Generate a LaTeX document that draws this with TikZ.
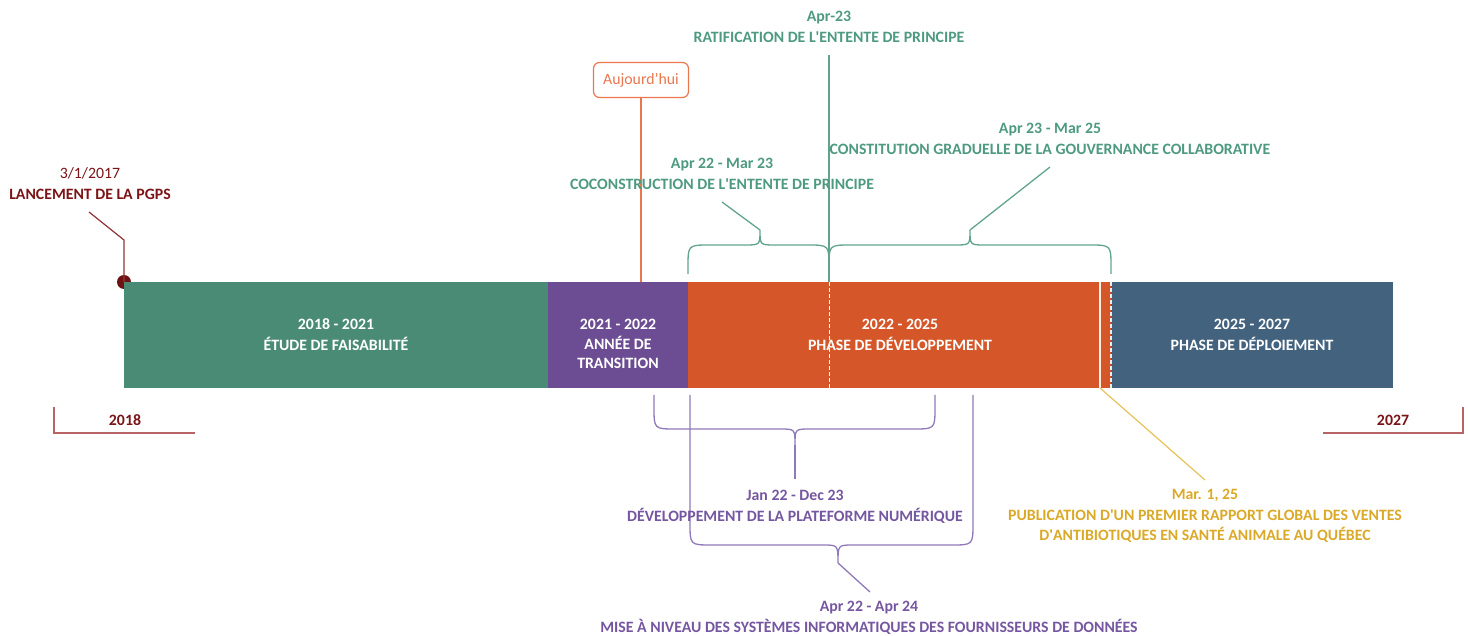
\documentclass[tikz,border=0pt]{standalone}
\usepackage{fontspec}
\setmainfont{Carlito}[Ligatures=TeXOff]
\definecolor{ptGreen}{HTML}{4A8B76}
\definecolor{ptGreenTxt}{HTML}{4E9A80}
\definecolor{ptPurple}{HTML}{6C4D93}
\definecolor{ptPurpleTxt}{HTML}{7556A0}
\definecolor{ptPurpleLn}{HTML}{8F79B8}
\definecolor{ptOrange}{HTML}{D55628}
\definecolor{ptOrangeLt}{HTML}{E9764D}
\definecolor{ptBlue}{HTML}{43627E}
\definecolor{ptRed}{HTML}{7B1416}
\definecolor{ptRedLn}{HTML}{B86466}
\definecolor{ptGold}{HTML}{DBA928}
\definecolor{ptGoldLn}{HTML}{E6C15A}
\newcommand{\apos}{\textquotesingle}

\begin{document}
\begin{tikzpicture}[x=1pt, y=-1pt,
		lbl/.style={align=center, inner sep=0pt, font=\bfseries\fontsize{15.8}{21}\selectfont},
		bartxt/.style={lbl, text=white},
		greenln/.style={ptGreenTxt!90, line width=1.3pt},
		purpleln/.style={ptPurpleLn, line width=1.3pt},
		yearln/.style={ptRedLn, line width=1.5pt}]
			\useasboundingbox (0,0) rectangle (1468,636);
			% lancement
			\node[circle, fill=ptRed!90!black, inner sep=0pt, minimum size=14pt] (launch) at (124,282) {};
			\coordinate (launchKnee) at (124,240);
			\coordinate (launchEnd) at (89,212);
			\draw[ptRed!85, line width=1.2pt] (launch.center) -- (launchKnee) -- (launchEnd);
			\node[lbl, text=ptRed] (launchLbl) at (90,184) {{\mdseries 3/1/2017}\\LANCEMENT DE LA PGPS};
			% phases
			\foreach \xa/\xb/\c in {124/548/ptGreen, 548/688/ptPurple, 688/1111/ptOrange, 1111/1393/ptBlue}{
				\fill[\c] (\xa,282) rectangle (\xb,388);
			}
			\node[bartxt] (etude) at (336,335) {2018 - 2021\\ÉTUDE DE FAISABILITÉ};
			\node[bartxt] (transition) at (618,344) {2021 - 2022\\[-1.5pt]ANNÉE DE\\[-1.5pt]TRANSITION};
			\node[bartxt] (devel) at (900,335) {2022 - 2025\\PHASE DE DÉVELOPPEMENT};
			\node[bartxt] (deploi) at (1252,335) {2025 - 2027\\PHASE DE DÉPLOIEMENT};
			\draw[white, line width=1pt, dash pattern=on 4pt off 2pt] (829,282) -- (829,388);
			\draw[white!85!gray, line width=1.2pt, dash pattern=on 4pt off 2pt] (1111,282) -- (1111,388);
			\draw[white!90!orange, line width=1.3pt] (1100,282) -- (1100,388);
			% years
			\draw[yearln] (54,407) -- (54,433) -- (195,433);
			\node[lbl, text=ptRed] (y2018) at (125,420) {2018};
			\draw[yearln] (1323,433) -- (1463,433) -- (1463,407);
			\node[lbl, text=ptRed] (y2027) at (1393,420) {2027};
			% aujourd'hui
			\node[draw=ptOrangeLt, line width=1.2pt, rounded corners=6pt, minimum width=95pt, minimum height=35pt,
				text=ptOrangeLt, font=\fontsize{15.8}{18}\selectfont] (today) at (641,80) {Aujourd’hui};
			\coordinate (todayBar) at (641,282);
			\draw[ptOrangeLt, line width=1.2pt] (today.south) -- (todayBar);
			% ratification
			\node[lbl, text=ptGreenTxt] (ratif) at (829,27) {Apr-23\\RATIFICATION DE L\apos ENTENTE DE PRINCIPE};
			\coordinate (ratifTop) at (829,55);
			\coordinate (ratifBar) at (829,282);
			\draw[greenln] (ratifTop) -- (ratifBar);
			% accolades
			\foreach \a/\b/\m/\ye/\yh/\yt/\st/\n in {688/829/760/274/245/230/greenln/1, 829/1111/970/274/245/230/greenln/2,
				654/935/795/395/429/445/purpleln/3, 690/973/838/395/545/563/purpleln/4}{
				\pgfmathsetmacro\s{sign(\yh-\ye)}
				\draw[\st] (\a,\ye) -- (\a,{\yh-\s*22}) .. controls (\a,\yh) .. ({\a+22},\yh) -- ({\m-15},\yh)
					.. controls (\m,\yh) .. (\m,\yt) .. controls (\m,\yh) .. ({\m+15},\yh) -- ({\b-22},\yh)
					.. controls (\b,\yh) .. (\b,{\yh-\s*22}) -- (\b,\ye);
				\coordinate (tip\n) at (\m,\yt);
			}
			\node[lbl, text=ptGreenTxt] (coco) at (722,174) {Apr 22 - Mar 23\\COCONSTRUCTION DE L\apos ENTENTE DE PRINCIPE};
			\coordinate (cocoEnd) at (722,202);
			\draw[greenln] (tip1) -- (cocoEnd);
			\node[lbl, text=ptGreenTxt] (gouv) at (1050,139) {Apr 23 - Mar 25\\CONSTITUTION GRADUELLE DE LA GOUVERNANCE COLLABORATIVE};
			\coordinate (gouvEnd) at (1050,167);
			\draw[greenln] (tip2) -- (gouvEnd);
			\node[lbl, text=ptPurpleTxt] (plateforme) at (795,507) {Jan 22 - Dec 23\\DÉVELOPPEMENT DE LA PLATEFORME NUMÉRIQUE};
			\coordinate (plateformeEnd) at (795,479);
			\draw[purpleln] (tip3) -- (plateformeEnd);
			\node[lbl, text=ptPurpleTxt] (mise) at (869,618) {Apr 22 - Apr 24\\MISE À NIVEAU DES SYSTÈMES INFORMATIQUES DES FOURNISSEURS DE DONNÉES};
			\coordinate (miseEnd) at (870,592);
			\draw[purpleln] (tip4) -- (miseEnd);
			% rapport
			\coordinate (rapportBar) at (1100,388);
			\coordinate (rapportEnd) at (1205,480);
			\draw[ptGoldLn, line width=1.2pt] (rapportBar) -- (rapportEnd);
			\node[lbl, text=ptGold] (rapport) at (1205,516) {Mar. 1, 25\\PUBLICATION D\apos UN PREMIER RAPPORT GLOBAL DES VENTES\\[-1.5pt]D\apos ANTIBIOTIQUES EN SANTÉ ANIMALE AU QUÉBEC};
		\end{tikzpicture}
\end{document}
